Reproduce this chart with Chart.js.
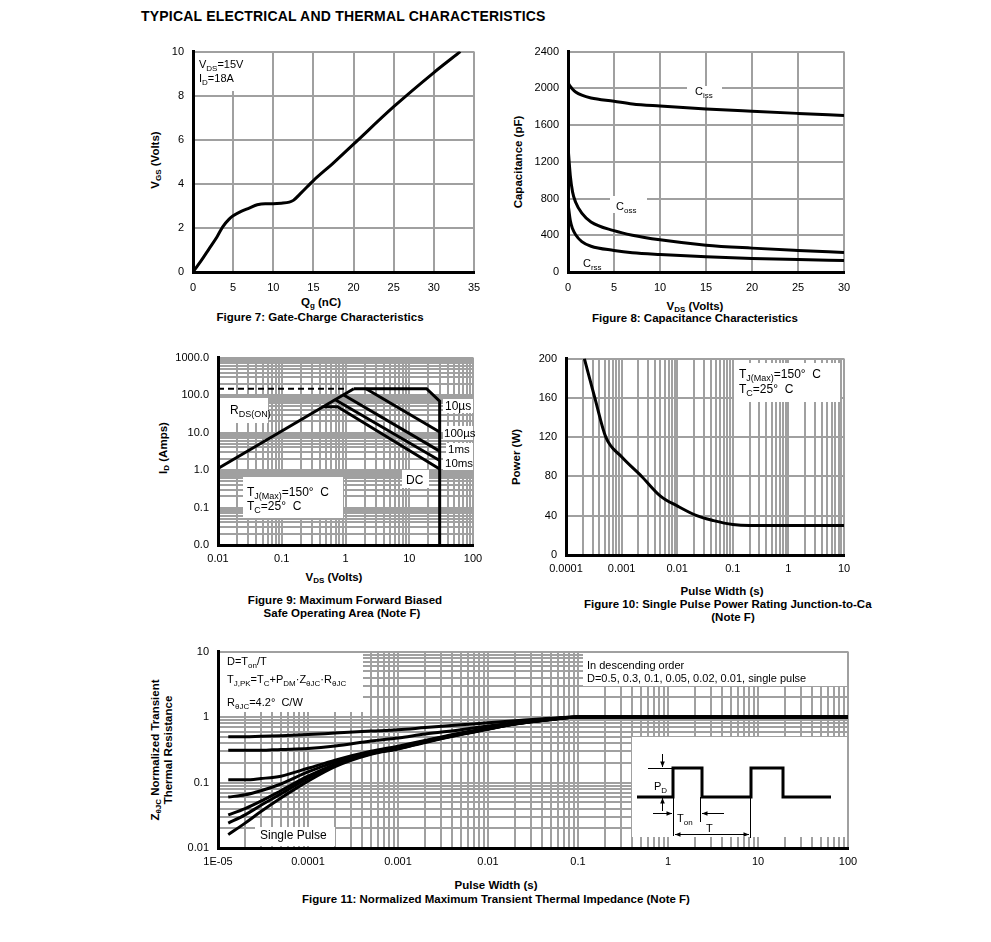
<!DOCTYPE html>
<html>
<head>
<meta charset="utf-8">
<title>Typical electrical and thermal characteristics</title>
<script src="https://cdn.jsdelivr.net/npm/chart.js@4.4.1/dist/chart.umd.min.js"></script>
<style>
  body { margin: 0; width: 991px; height: 942px; position: relative; background: #fff; overflow: hidden;
         font-family: "Liberation Sans", Arial, sans-serif; color: #000; }
  canvas { position: absolute; }
  .lbl { position: absolute; font-size: 11.5px; font-weight: bold; line-height: 13px; white-space: nowrap; }
  .c { transform: translate(-50%, -50%); text-align: center; }
  .r { transform: translate(-50%, -50%) rotate(-90deg); text-align: center; }
  sub { font-size: 8px; vertical-align: -2px; line-height: 0; }
</style>
</head>
<body>
<div class="lbl" style="left:141px;top:10px;font-size:14px;letter-spacing:0.2px">TYPICAL ELECTRICAL AND THERMAL CHARACTERISTICS</div>

<!-- figure 7 -->
<div class="lbl r" style="left:155px;top:160px">V<sub>GS</sub> (Volts)</div>
<div class="lbl c" style="left:321px;top:302px">Q<sub>g</sub> (nC)</div>
<div class="lbl c" style="left:320px;top:317px">Figure 7: Gate-Charge Characteristics</div>

<!-- figure 8 -->
<div class="lbl r" style="left:518px;top:162px">Capacitance (pF)</div>
<div class="lbl c" style="left:695px;top:306px">V<sub>DS</sub> (Volts)</div>
<div class="lbl c" style="left:695px;top:318px">Figure 8: Capacitance Characteristics</div>

<!-- figure 9 -->
<div class="lbl r" style="left:163px;top:448px">I<sub>D</sub> (Amps)</div>
<div class="lbl c" style="left:334px;top:577px">V<sub>DS</sub> (Volts)</div>
<div class="lbl c" style="left:345px;top:600px">Figure 9: Maximum Forward Biased</div>
<div class="lbl c" style="left:342px;top:613px">Safe Operating Area (Note F)</div>

<!-- figure 10 -->
<div class="lbl r" style="left:516px;top:457px">Power (W)</div>
<div class="lbl c" style="left:722px;top:591px">Pulse Width (s)</div>
<div class="lbl" style="left:584px;top:598px">Figure 10: Single Pulse Power Rating Junction-to-Ca</div>
<div class="lbl c" style="left:733px;top:617px">(Note F)</div>

<!-- figure 11 -->
<div class="lbl r" style="left:162px;top:750px">Z<sub>θJC</sub> Normalized Transient<br>Thermal Resistance</div>
<div class="lbl c" style="left:496px;top:885px">Pulse Width (s)</div>
<div class="lbl c" style="left:496px;top:899px">Figure 11: Normalized Maximum Transient Thermal Impedance (Note F)</div>

<script>
// Figure 7: gate charge
const gateCharge = [0, 1, 2, 3, 3.7, 4.5, 5, 6, 7, 8, 9, 10, 11, 12, 12.5, 13.5, 15, 17.5, 20, 25, 30, 33.3];
const gateVolts  = [0, 0.5, 1.05, 1.6, 2.05, 2.4, 2.55, 2.75, 2.9, 3.05, 3.1, 3.1, 3.12, 3.17, 3.25, 3.6, 4.15, 4.95, 5.8, 7.5, 9.05, 10];

// Figure 8: capacitance vs VDS
const capVds  = [0, 0.25, 0.5, 0.83, 1.5, 2.5, 5, 7, 10, 15, 20, 25, 30];
const capCiss = [2060, 2020, 1990, 1960, 1925, 1895, 1860, 1830, 1807, 1775, 1750, 1727, 1705];
const capCoss = [1370, 1050, 870, 760, 640, 545, 450, 400, 350, 292, 260, 235, 213];
const capCrss = [750, 560, 470, 405, 330, 280, 235, 210, 190, 165, 148, 135, 125];

// Figure 9: safe operating area (each line as VDS / ID pairs)
const rdsV   = [0.01, 1.35];       const rdsI   = [1.1, 148];
const limV   = [0.01, 0.97];       const limI   = [148, 148];
const us10V  = [1.35, 18.7, 30, 30]; const us10I = [148, 148, 69, 0.01];
const us100V = [2.1, 30];          const us100I = [148, 10.4];
const ms1V   = [0.91, 30];         const ms1I   = [104, 3.2];
const ms10V  = [0.68, 30];         const ms10I  = [76, 1.8];
const dcV    = [0.44, 0.75, 30];   const dcI    = [48.7, 48.7, 1.06];
const soaXTicks = [0.01, 0.1, 1, 10, 100];
const soaXLabels = ['0.01', '0.1', '1', '10', '100'];
const soaYTicks = [0.01, 0.1, 1, 10, 100, 1000];
const soaYLabels = ['0.0', '0.1', '1.0', '10.0', '100.0', '1000.0'];

// Figure 10: single pulse power
const pwrT = [2.14e-4, 3.3e-4, 5.2e-4, 1e-3, 2.3e-3, 5e-3, 0.01, 0.0225, 0.045, 0.1, 0.2, 1, 10];
const pwrW = [200, 160, 120, 100, 80, 60, 50, 40, 35, 31, 30, 30, 30];
const pwrXTicks = [0.0001, 0.001, 0.01, 0.1, 1, 10];
const pwrXLabels = ['0.0001', '0.001', '0.01', '0.1', '1', '10'];

// Figure 11: normalized transient thermal impedance
const zthT    = [1.3e-5, 2e-5, 3e-5, 5e-5, 1e-4, 2e-4, 5e-4, 1e-3, 2e-3, 5e-3, 1e-2, 2e-2, 5e-2, 0.1, 1, 10, 100];
const zthD05  = [0.50, 0.50, 0.51, 0.52, 0.54, 0.57, 0.61, 0.64, 0.69, 0.76, 0.82, 0.88, 0.96, 1, 1, 1, 1];
const zthD03  = [0.31, 0.31, 0.31, 0.32, 0.33, 0.36, 0.43, 0.48, 0.55, 0.64, 0.73, 0.82, 0.94, 1, 1, 1, 1];
const zthD01  = [0.11, 0.11, 0.115, 0.125, 0.165, 0.22, 0.30, 0.36, 0.44, 0.57, 0.68, 0.80, 0.93, 1, 1, 1, 1];
const zthD005 = [0.06, 0.065, 0.075, 0.095, 0.145, 0.205, 0.29, 0.345, 0.43, 0.56, 0.67, 0.79, 0.92, 1, 1, 1, 1];
const zthD002 = [0.032, 0.04, 0.052, 0.075, 0.125, 0.19, 0.28, 0.335, 0.42, 0.55, 0.66, 0.79, 0.92, 1, 1, 1, 1];
const zthD001 = [0.024, 0.032, 0.045, 0.067, 0.117, 0.185, 0.275, 0.33, 0.415, 0.545, 0.655, 0.785, 0.92, 1, 1, 1, 1];
const zthSP   = [0.016, 0.024, 0.036, 0.058, 0.105, 0.175, 0.27, 0.325, 0.41, 0.54, 0.65, 0.78, 0.92, 1, 1, 1, 1];
const zthXTicks = [1e-5, 1e-4, 1e-3, 1e-2, 0.1, 1, 10, 100];
const zthXLabels = ['1E-05', '0.0001', '0.001', '0.01', '0.1', '1', '10', '100'];
const zthYTicks = [0.01, 0.1, 1, 10];
const zthYLabels = ['0.01', '0.1', '1', '10'];

const FONT = '"Liberation Sans", Arial, sans-serif';
const GRID = '#a0a0a0';
const YW = 60, XH = 26, PT = 10, PR = 30; // axis box sizes around each plot area

Chart.defaults.font.family = FONT;
Chart.defaults.font.size = 11;
Chart.defaults.color = '#000';

// draw text with _{...} subscripts on the canvas
function richText(ctx, x, y, str, size) {
  let cx = x;
  str.split(/(_\{[^}]*\})/).filter(Boolean).forEach(p => {
    const sub = p.startsWith('_{');
    const txt = sub ? p.slice(2, -1) : p;
    ctx.font = (sub ? Math.round(size * 0.72) : size) + 'px ' + FONT;
    ctx.fillText(txt, cx, sub ? y + size * 0.25 : y);
    cx += ctx.measureText(txt).width;
  });
}

// white label boxes + text, in page coordinates
const notesPlugin = {
  id: 'notes',
  beforeDatasetsDraw(chart, args, opts) {
    const ctx = chart.ctx;
    ctx.save();
    ctx.translate(-chart.canvas.offsetLeft, -chart.canvas.offsetTop);
    ctx.fillStyle = '#fff';
    (opts.boxes || []).forEach(b => ctx.fillRect(b[0], b[1], b[2], b[3]));
    ctx.fillStyle = '#000';
    ctx.textBaseline = 'alphabetic';
    (opts.texts || []).forEach(t => richText(ctx, t[0], t[1], t[2], t[3] || 11));
    if (opts.draw) opts.draw(ctx);
    ctx.restore();
  }
};

function fit(pos) {
  return s => { if (pos === 'left') s.width = YW; else s.height = XH; };
}

function linAxis(pos, min, max, step) {
  return {
    type: 'linear', position: pos, min, max, afterFit: fit(pos),
    ticks: { stepSize: step, padding: 9, maxRotation: 0, autoSkip: false, callback: v => String(v) },
    grid: { color: GRID, lineWidth: 2, drawTicks: false },
    border: { color: '#000', width: 3, z: 1 }
  };
}

function logTicks(min, max) {
  const out = [];
  for (let e = Math.round(Math.log10(min)); e < Math.round(Math.log10(max)); e++) {
    for (let k = 1; k <= 9; k++) out.push(Number((k * Math.pow(10, e)).toPrecision(6)));
  }
  out.push(max);
  return out;
}

function logAxis(pos, min, max, decades, labels) {
  return {
    type: 'logarithmic', position: pos, min, max, afterFit: fit(pos),
    afterBuildTicks: s => { s.ticks = logTicks(min, max).map(v => ({ value: v })); },
    ticks: {
      padding: pos === 'left' ? 9 : 7, maxRotation: 0, autoSkip: false,
      callback: v => {
        const i = decades.findIndex(d => Math.abs(v / d - 1) < 1e-6);
        return i < 0 ? '' : labels[i];
      }
    },
    grid: { color: GRID, lineWidth: 2, drawTicks: false },
    border: { color: '#000', width: 3, z: 1 }
  };
}

function curve(xs, ys, extra) {
  return Object.assign({
    data: xs.map((x, i) => ({ x, y: ys[i] })),
    showLine: true, borderColor: '#000', borderWidth: 3, pointRadius: 0,
    cubicInterpolationMode: 'monotone'
  }, extra || {});
}

function makeChart(canvas, datasets, x, y, notes) {
  return new Chart(canvas, {
    type: 'scatter',
    data: { datasets },
    options: {
      responsive: false, animation: false, events: [],
      layout: { padding: { top: PT, right: PR, left: 0, bottom: 0 } },
      plugins: { legend: { display: false }, tooltip: { enabled: false }, notes },
      scales: { x, y }
    },
    plugins: [notesPlugin]
  });
}

// build once to measure the margins round the plot area, then rebuild so the
// plot area lands exactly on the given page rectangle
function build(area, datasets, x, y, notes) {
  const [l, t, r, b] = area;
  const probe = document.createElement('canvas');
  probe.width = r - l + YW + PR;
  probe.height = b - t + PT + XH;
  document.body.appendChild(probe);
  const tmp = makeChart(probe, datasets, x, y, {});
  const a = tmp.chartArea;
  const inset = { l: a.left, t: a.top, r: tmp.width - a.right, b: tmp.height - a.bottom };
  tmp.destroy();
  probe.remove();

  const c = document.createElement('canvas');
  c.width = Math.round(r - l + inset.l + inset.r);
  c.height = Math.round(b - t + inset.t + inset.b);
  c.style.left = (l - inset.l) + 'px';
  c.style.top = (t - inset.t) + 'px';
  document.body.appendChild(c);
  return makeChart(c, datasets.map(d => Object.assign({}, d)), x, y, notes);
}

// Figure 7
build([193, 52, 474, 272],
  [curve(gateCharge, gateVolts)],
  linAxis('bottom', 0, 35, 5), linAxis('left', 0, 10, 2),
  { boxes: [[194, 53, 52, 38]],
    texts: [[199, 68, 'V_{DS}=15V'], [199, 82, 'I_{D}=18A']] });

// Figure 8
build([568, 52, 844, 272],
  [curve(capVds, capCiss), curve(capVds, capCoss), curve(capVds, capCrss)],
  linAxis('bottom', 0, 30, 5), linAxis('left', 0, 2400, 400),
  { boxes: [[687, 86, 35, 12], [610, 196, 37, 17], [580, 255, 25, 15]],
    texts: [[695, 95, 'C_{iss}'], [616, 210, 'C_{oss}'], [583, 267, 'C_{rss}']] });

// Figure 9
const straight = { cubicInterpolationMode: 'default', tension: 0 };
build([218, 358, 473, 545],
  [curve(limV, limI, Object.assign({ borderWidth: 2, borderDash: [6, 4] }, straight)),
   curve(rdsV, rdsI, straight),
   curve(us10V, us10I, straight),
   curve(us100V, us100I, straight),
   curve(ms1V, ms1I, straight),
   curve(ms10V, ms10I, straight),
   curve(dcV, dcI, straight)],
  logAxis('bottom', 0.01, 100, soaXTicks, soaXLabels),
  logAxis('left', 0.01, 1000, soaYTicks, soaYLabels),
  { boxes: [[219, 398, 49, 25], [243, 477, 100, 41],
            [443, 399, 30, 14], [443, 426, 30, 14], [446, 443, 27, 13], [443, 456, 30, 14], [402, 470, 27, 18]],
    texts: [[230, 414, 'R_{DS(ON)}', 12], [247, 496, 'T_{J(Max)}=150°  C', 12], [247, 510, 'T_{C}=25°  C', 12],
            [445, 410, '10µs', 12], [444, 437, '100µs', 11.5], [448, 453, '1ms', 11.5], [445, 467, '10ms', 11.5],
            [406, 484, 'DC', 12]] });

// Figure 10
build([566, 359, 844, 555],
  [curve(pwrT, pwrW)],
  logAxis('bottom', 0.0001, 10, pwrXTicks, pwrXLabels),
  linAxis('left', 0, 200, 40),
  { boxes: [[734, 363, 106, 39]],
    texts: [[739, 378, 'T_{J(Max)}=150°  C', 12], [739, 393, 'T_{C}=25°  C', 12]] });

// Figure 11 inset: pulse train sketch
function arrow(ctx, x1, y1, x2, y2) {
  const a = Math.atan2(y2 - y1, x2 - x1);
  ctx.beginPath(); ctx.moveTo(x1, y1); ctx.lineTo(x2, y2); ctx.stroke();
  ctx.beginPath();
  ctx.moveTo(x2, y2);
  ctx.lineTo(x2 - 6 * Math.cos(a - 0.4), y2 - 6 * Math.sin(a - 0.4));
  ctx.lineTo(x2 - 6 * Math.cos(a + 0.4), y2 - 6 * Math.sin(a + 0.4));
  ctx.closePath(); ctx.fill();
}
function pulseSketch(ctx) {
  const lo = 797, hi = 768;
  ctx.strokeStyle = '#000'; ctx.fillStyle = '#000';
  ctx.lineWidth = 3;
  ctx.beginPath();
  ctx.moveTo(637, lo); ctx.lineTo(673, lo); ctx.lineTo(673, hi); ctx.lineTo(702, hi); ctx.lineTo(702, lo);
  ctx.lineTo(751, lo); ctx.lineTo(751, hi); ctx.lineTo(783, hi); ctx.lineTo(783, lo); ctx.lineTo(831, lo);
  ctx.stroke();
  ctx.lineWidth = 1;
  ctx.beginPath();
  ctx.moveTo(648, hi + 0.5); ctx.lineTo(673, hi + 0.5);
  ctx.moveTo(673.5, lo); ctx.lineTo(673.5, 836);
  ctx.moveTo(700.5, lo); ctx.lineTo(700.5, 822);
  ctx.moveTo(750.5, lo); ctx.lineTo(750.5, 838);
  ctx.stroke();
  arrow(ctx, 662.5, 754, 662.5, 767);
  arrow(ctx, 662.5, 811, 662.5, 798);
  arrow(ctx, 653, 813.5, 672, 813.5);
  arrow(ctx, 724, 813.5, 702, 813.5);
  arrow(ctx, 712, 834.5, 675, 834.5);
  arrow(ctx, 712, 834.5, 749, 834.5);
  richText(ctx, 654, 790, 'P_{D}', 11);
  richText(ctx, 677, 822, 'T_{on}', 11);
  richText(ctx, 706, 832, 'T', 11);
}

// Figure 11
build([218, 652, 848, 848],
  [curve(zthT, zthD05), curve(zthT, zthD03), curve(zthT, zthD01), curve(zthT, zthD005),
   curve(zthT, zthD002), curve(zthT, zthD001), curve(zthT, zthSP)],
  logAxis('bottom', 1e-5, 100, zthXTicks, zthXLabels),
  logAxis('left', 0.01, 10, zthYTicks, zthYLabels),
  { boxes: [[219, 653, 144, 59], [255, 827, 80, 19], [583, 653, 264, 33], [632, 737, 215, 100]],
    texts: [[227, 665, 'D=T_{on}/T'], [227, 683, 'T_{J,PK}=T_{C}+P_{DM}·Z_{θJC}·R_{θJC}'], [227, 706, 'R_{θJC}=4.2°  C/W'],
            [260, 839, 'Single Pulse', 12], [587, 669, 'In descending order'],
            [587, 682, 'D=0.5, 0.3, 0.1, 0.05, 0.02, 0.01, single pulse']],
    draw: pulseSketch });
</script>
</body>
</html>
